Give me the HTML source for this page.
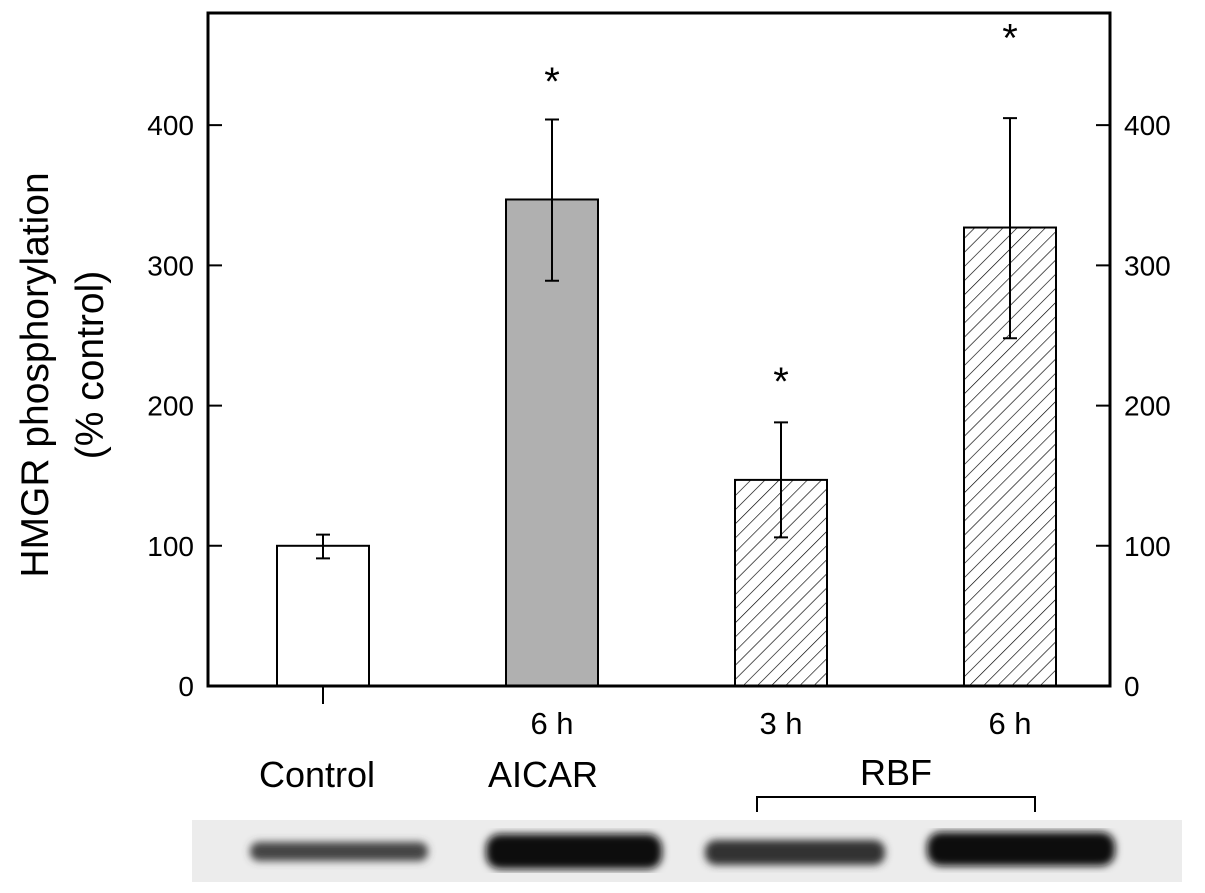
<!DOCTYPE html>
<html><head><meta charset="utf-8"><style>
body{margin:0;background:#fff;}
svg{display:block;font-family:"Liberation Sans",sans-serif;}
</style></head><body>
<svg width="1205" height="893" viewBox="0 0 1205 893">
<defs>
<pattern id="hatch" patternUnits="userSpaceOnUse" width="10" height="10" patternTransform="rotate(45)">
<rect width="10" height="10" fill="#fff"/><line x1="0" y1="0" x2="0" y2="10" stroke="#000" stroke-width="1.3"/>
</pattern>
<filter id="blur"><feGaussianBlur stdDeviation="4"/></filter>
</defs>
<g id="plot"></g>
<text x="48" y="375" font-size="39" text-anchor="middle" transform="rotate(-90 48 375)">HMGR phosphorylation</text>
<text x="103" y="365" font-size="39" text-anchor="middle" transform="rotate(-90 103 365)">(% control)</text>
<text x="317" y="787" font-size="36" text-anchor="middle">Control</text>
<text x="543" y="787" font-size="36" text-anchor="middle">AICAR</text>
<text x="896" y="785" font-size="36" text-anchor="middle">RBF</text>
<path d="M757 812 V797 H1035 V812" fill="none" stroke="#000" stroke-width="2"/>
<g>
<rect x="192" y="820" width="990" height="62" fill="#ececec"/>
<g filter="url(#blur)">
<rect x="250" y="842" width="178" height="19" rx="9" fill="#444"/>
<rect x="486" y="834" width="176" height="35" rx="14" fill="#111"/>
<rect x="705" y="840" width="180" height="25" rx="11" fill="#333"/>
<rect x="927" y="832" width="188" height="34" rx="14" fill="#111"/>
</g>
</g>
</svg>
<script>
const categories=["Control","AICAR 6 h","RBF 3 h","RBF 6 h"];
const catLabels=["","6 h","3 h","6 h"];
const values=[100,347,147,327];
const errLow=[91,289,106,248];
const errHigh=[108,404,188,405];
const stars=[false,true,true,true];
const starY=[0,433,219,464];
const yTicks=[0,100,200,300,400];
const fills=["#fff","#b0b0b0","url(#hatch)","url(#hatch)"];
const NS="http://www.w3.org/2000/svg";
const X0=208,X1=1110,Y0=686,YT=13,YMAX=480;
const y=v=>Y0-(v/YMAX)*(Y0-YT);
const x=i=>323+i*229;
const BW=92;
const g=document.getElementById('plot');
function mk(t,a){const e=document.createElementNS(NS,t);for(const k in a)e.setAttribute(k,a[k]);g.appendChild(e);return e;}
categories.forEach((c,i)=>{
 const r=mk('rect',{x:x(i)-BW/2,y:y(values[i]),width:BW,height:Y0-y(values[i]),fill:fills[i],stroke:'#000','stroke-width':2});
 
 
 const e=mk('path',{d:`M${x(i)} ${y(errLow[i])}V${y(errHigh[i])}M${x(i)-7} ${y(errLow[i])}h14M${x(i)-7} ${y(errHigh[i])}h14`,stroke:'#000','stroke-width':2,fill:'none'});
 
 
 if(stars[i]){const s=mk('text',{x:x(i),y:y(starY[i])+16,'font-size':40,'text-anchor':'middle'});s.textContent='*';
 
 }
 if(catLabels[i]){const l=mk('text',{x:x(i),y:734,'font-size':31,'text-anchor':'middle'});l.textContent=catLabels[i];
 
 }
});
const tk=mk('line',{x1:x(0),x2:x(0),y1:Y0,y2:704,stroke:'#000','stroke-width':2});


yTicks.forEach(v=>{
 mk('path',{d:`M${X0} ${y(v)}h14M${X1} ${y(v)}h-14`,stroke:'#000','stroke-width':2});
 const a=mk('text',{x:194,y:y(v)+10,'font-size':28,'text-anchor':'end'});a.textContent=v;
 
 
 const b=mk('text',{x:1124,y:y(v)+10,'font-size':28});b.textContent=v;
 
 
});
const fr=mk('rect',{x:X0,y:YT,width:X1-X0,height:Y0-YT,fill:'none',stroke:'#000','stroke-width':3});


</script>
</body></html>
